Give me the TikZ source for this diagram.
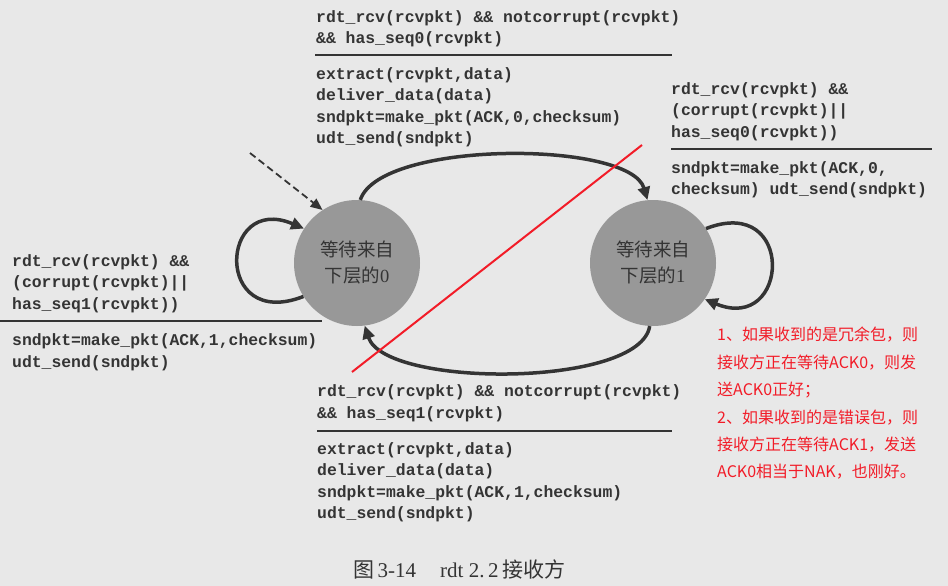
\documentclass[tikz,border=0pt]{standalone}
\usepackage{fontspec}
\setmainfont{Liberation Serif}
\setmonofont{Liberation Mono}
\newfontfamily\cjk{Noto Sans CJK SC}
\usetikzlibrary{arrows.meta}
\definecolor{paper}{RGB}{232,232,232}
\definecolor{ink}{RGB}{52,52,52}
\definecolor{stategray}{RGB}{152,152,152}
\definecolor{notered}{RGB}{242,28,40}
\tikzset{
  state/.style={circle, fill=stategray, minimum size=126pt, inner sep=0pt,
    align=center, text=ink, font=\cjk\fontsize{18.5}{26}\selectfont},
  trans/.style={draw=ink, line width=3.5pt, -{Triangle[length=13pt,width=12pt]}},
  code/.style={anchor=west, inner sep=0pt, align=left, text=ink,
    font=\ttfamily\bfseries\fontsize{16.4}{21.5}\selectfont},
  guardrule/.style={draw=ink, line width=1.4pt},
  note/.style={anchor=west, inner sep=0pt, align=left, text=notered,
    font=\cjk\fontsize{16}{27.4}\selectfont}
}
\begin{document}
\begin{tikzpicture}[x=1pt,y=-1pt]

\fill[paper] (0,0) rectangle (948,586);
\useasboundingbox (0,0) rectangle (948,586);

% states
\node[state] (s0) at (357,263) {等待来自\\下层的{\rmfamily 0}};
\node[state] (s1) at (653,263) {等待来自\\下层的{\rmfamily 1}};

% transitions
\coordinate (init) at (250,153);
\draw[draw=ink, dash pattern=on 7pt off 4pt, line width=1.8pt,
  -{Triangle[length=12pt,width=10pt]}] (init) -- (s0.123);
\draw[trans] (s0.87) .. controls (380,140) and (630,140) .. (s1.95);
\draw[trans] (s1.267) .. controls (640,388) and (385,388) .. (s0.277);
\draw[trans] (s0.212) .. controls +(-90,35) and +(-85,-36) .. (s0.147);
\draw[trans] (s1.33) .. controls +(90,-35) and +(85,35) .. (s1.325);

% top: 0 -> 1
\node[code] (g0) at (316,29) {rdt\_rcv(rcvpkt) \&\& notcorrupt(rcvpkt)\\\&\& has\_seq0(rcvpkt)};
\draw[guardrule] (315,55) -- (672,55);
\node[code] (a0) at (316,107.5) {extract(rcvpkt,data)\\deliver\_data(data)\\sndpkt=make\_pkt(ACK,0,checksum)\\udt\_send(sndpkt)};

% right: stay in 1
\node[code] (g1) at (671,111.7) {rdt\_rcv(rcvpkt) \&\&\\(corrupt(rcvpkt)||\\has\_seq0(rcvpkt))};
\draw[guardrule] (671,149) -- (932,149);
\node[code] (a1) at (671,180) {sndpkt=make\_pkt(ACK,0,\\checksum) udt\_send(sndpkt)};

% left: stay in 0
\node[code] (g2) at (12,283.3) {rdt\_rcv(rcvpkt) \&\&\\(corrupt(rcvpkt)||\\has\_seq1(rcvpkt))};
\draw[guardrule] (0,321) -- (322,321);
\node[code] (a2) at (12,352.5) {sndpkt=make\_pkt(ACK,1,checksum)\\udt\_send(sndpkt)};

% bottom: 1 -> 0
\node[code] (g3) at (317,403.5) {rdt\_rcv(rcvpkt) \&\& notcorrupt(rcvpkt)\\\&\& has\_seq1(rcvpkt)};
\draw[guardrule] (317,431) -- (672,431);
\node[code] (a3) at (317,482.5) {extract(rcvpkt,data)\\deliver\_data(data)\\sndpkt=make\_pkt(ACK,1,checksum)\\udt\_send(sndpkt)};

% caption
\node[anchor=west, inner sep=0pt, text=ink, font=\fontsize{21}{24}\selectfont] (caption) at (353,569)
  {{\cjk 图}\,3-14\hspace{24pt}rdt 2.\,2\,{\cjk 接收方}};

% red remark
\draw[notered, line width=2pt] (642,145) -- (352,372);
\node[note] (remark) at (717,403.5) {1、如果收到的是冗余包，则\\接收方正在等待ACK0，则发\\送ACK0正好；\\2、如果收到的是错误包，则\\接收方正在等待ACK1，发送\\ACK0相当于NAK，也刚好。};
\end{tikzpicture}
\end{document}
